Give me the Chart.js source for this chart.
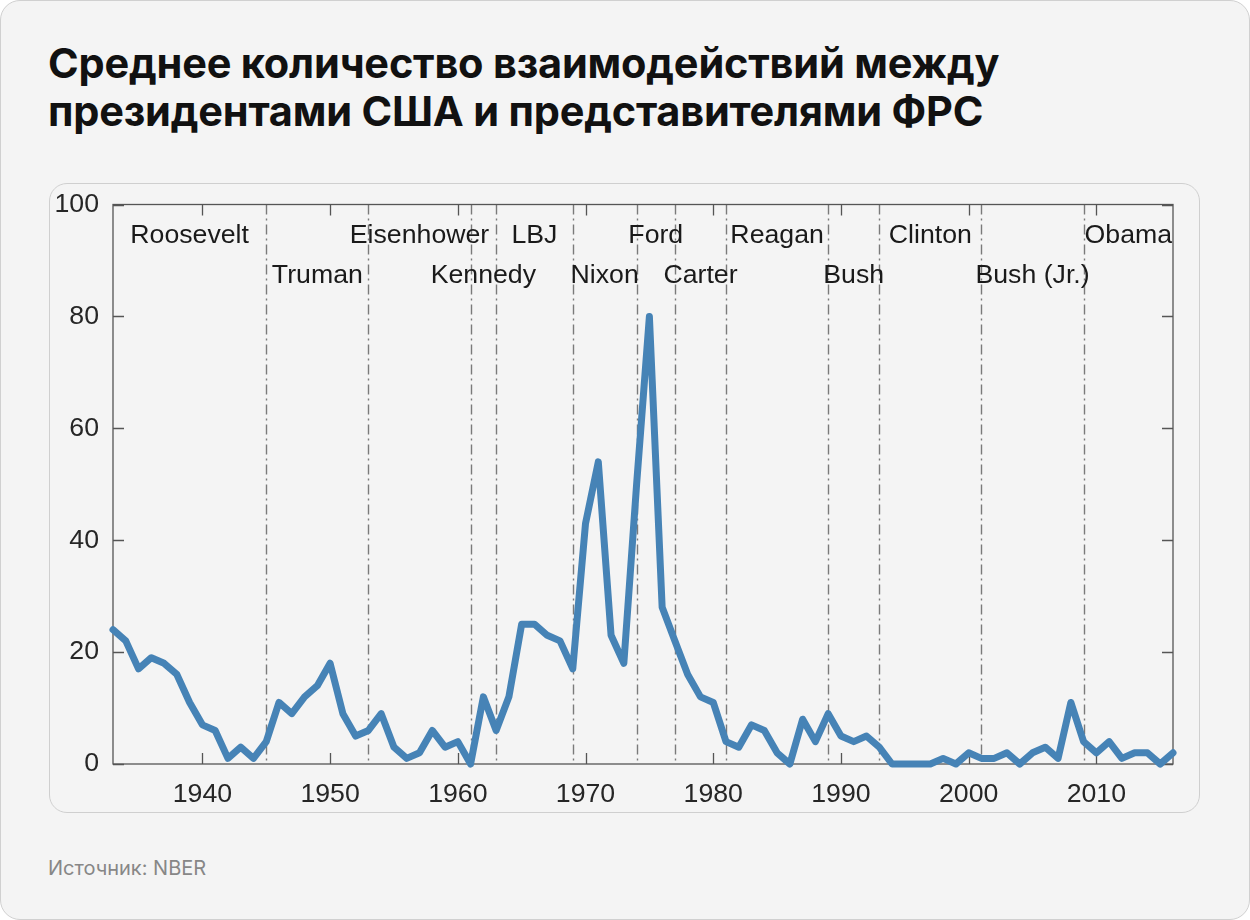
<!DOCTYPE html>
<html>
<head>
<meta charset="utf-8">
<script src="https://cdn.jsdelivr.net/npm/chart.js@4.4.1/dist/chart.umd.min.js"></script>
<style>
  html, body { margin: 0; padding: 0; background: #ffffff; }
  #page {
    position: relative; width: 1248px; height: 918px;
    background: #f4f4f4; border: 1px solid #d0d0d0; border-radius: 20px; overflow: hidden;
  }
  #title {
    position: absolute; left: 47px; top: 38px; margin: 0;
    font-family: Inter, "Noto Sans", sans-serif; font-weight: 700;
    font-size: 41.5px; line-height: 48px; color: #111; letter-spacing: -0.2px;
  }
  #box {
    position: absolute; left: 48px; top: 182px; width: 1151px; height: 630px;
    border: 1px solid #cfcfcf; border-radius: 18px; box-sizing: border-box;
  }
  #source {
    position: absolute; left: 47px; top: 855px;
    font-family: Inter, "Noto Sans", sans-serif; font-size: 20px; color: #878787;
  }
  #cv { position: absolute; left: -1px; top: -1px; }
</style>
</head>
<body>
<div id="page">
  <div id="title">Среднее количество взаимодействий между<br>президентами США и представителями ФРС</div>
  <div id="box"></div>
  <div id="source">Источник: NBER</div>
  <canvas id="cv" width="1250" height="920"></canvas>
</div>
<script>
// ---- data ----
const years = [1933,1934,1935,1936,1937,1938,1939,1940,1941,1942,1943,1944,1945,1946,1947,1948,1949,
  1950,1951,1952,1953,1954,1955,1956,1957,1958,1959,1960,1961,1962,1963,1964,1965,1966,1967,1968,1969,
  1970,1971,1972,1973,1974,1975,1976,1977,1978,1979,1980,1981,1982,1983,1984,1985,1986,1987,1988,1989,
  1990,1991,1992,1993,1994,1995,1996,1997,1998,1999,2000,2001,2002,2003,2004,2005,2006,2007,2008,2009,
  2010,2011,2012,2013,2014,2015,2016];
const interactions = [24,22,17,19,18,16,11,7,6,1,3,1,4,11,9,12,14,
  18,9,5,6,9,3,1,2,6,3,4,0,12,6,12,25,25,23,22,17,
  43,54,23,18,50,80,28,22,16,12,11,4,3,7,6,2,0,8,4,9,
  5,4,5,3,0,0,0,0,1,0,2,1,1,2,0,2,3,1,11,4,
  2,4,1,2,2,0,2];
const presidents = ['Roosevelt','Truman','Eisenhower','Kennedy','LBJ','Nixon','Ford','Carter','Reagan','Bush','Clinton','Bush (Jr.)','Obama'];
const termStarts = [1933,1945,1953,1961,1963,1969,1974,1977,1981,1989,1993,2001,2009];
const termEnds   = [1945,1953,1961,1963,1969,1974,1977,1981,1989,1993,2001,2009,2016];
const xTicks = [1940,1950,1960,1970,1980,1990,2000,2010];
const yTicks = [0,20,40,60,80,100];

const FONT_FAMILY = '"Liberation Sans", Arial, sans-serif';
const LABEL_FONT = '26.7px ' + FONT_FAMILY;
const AXIS_COLOR = '#555555';

const framePlugin = {
  id: 'frame',
  beforeDatasetsDraw(chart) {
    const {ctx, chartArea: a, scales: {x, y}} = chart;
    ctx.save();
    // president dividers (dash-dot)
    ctx.strokeStyle = '#7a7a7a';
    ctx.lineWidth = 1.4;
    ctx.setLineDash([10, 4, 2, 4]);
    termStarts.slice(1).forEach(t => {
      const px = Math.round(x.getPixelForValue(t)) + 0.5;
      ctx.beginPath(); ctx.moveTo(px, a.top); ctx.lineTo(px, a.bottom); ctx.stroke();
    });
    ctx.setLineDash([]);
    // president labels
    ctx.fillStyle = '#1a1a1a';
    ctx.font = LABEL_FONT;
    ctx.textAlign = 'center';
    ctx.textBaseline = 'alphabetic';
    presidents.forEach((p, i) => {
      const mid = (termStarts[i] + termEnds[i]) / 2;
      const rowVal = i % 2 === 0 ? 93.1 : 86.0;
      ctx.fillText(p, x.getPixelForValue(mid), y.getPixelForValue(rowVal));
    });
    // frame
    ctx.strokeStyle = AXIS_COLOR;
    ctx.lineWidth = 1.3;
    ctx.strokeRect(a.left, a.top, a.right - a.left, a.bottom - a.top);
    // inward ticks
    const tl = 11;
    xTicks.forEach(v => {
      const px = Math.round(x.getPixelForValue(v)) + 0.5;
      ctx.beginPath();
      ctx.moveTo(px, a.bottom); ctx.lineTo(px, a.bottom - tl);
      ctx.moveTo(px, a.top); ctx.lineTo(px, a.top + tl);
      ctx.stroke();
    });
    yTicks.forEach(v => {
      const py = Math.round(y.getPixelForValue(v)) + 0.5;
      ctx.beginPath();
      ctx.moveTo(a.left, py); ctx.lineTo(a.left + tl, py);
      ctx.moveTo(a.right, py); ctx.lineTo(a.right - tl, py);
      ctx.stroke();
    });
    ctx.restore();
  }
};

new Chart(document.getElementById('cv'), {
  type: 'line',
  data: {
    labels: years,
    datasets: [{
      data: years.map((yr, i) => ({x: yr, y: interactions[i]})),
      borderColor: '#4683b6',
      borderWidth: 7,
      borderJoinStyle: 'round',
      borderCapStyle: 'round',
      pointRadius: 0,
      tension: 0,
      clip: false
    }]
  },
  options: {
    responsive: false,
    animation: false,
    devicePixelRatio: 1,
    layout: { padding: { left: 0, top: 204.5, right: 77, bottom: 107 } },
    plugins: { legend: { display: false }, tooltip: { enabled: false } },
    scales: {
      x: {
        type: 'linear', min: 1933, max: 2016,
        afterFit(s) { s.height = 49; },
        grid: { display: false, drawTicks: false },
        border: { display: false },
        afterBuildTicks(s) { s.ticks = xTicks.map(v => ({value: v})); },
        ticks: {
          padding: 15, color: '#262626', maxRotation: 0,
          font: { family: FONT_FAMILY, size: 26.7 },
          callback: v => String(v)
        }
      },
      y: {
        min: 0, max: 100,
        afterFit(s) { s.width = 113; },
        grid: { display: false, drawTicks: false },
        border: { display: false },
        afterBuildTicks(s) { s.ticks = yTicks.map(v => ({value: v})); },
        ticks: {
          padding: 14, color: '#262626',
          font: { family: FONT_FAMILY, size: 26.7 },
          callback: v => String(v)
        }
      }
    }
  },
  plugins: [framePlugin]
});
</script>
</body>
</html>
